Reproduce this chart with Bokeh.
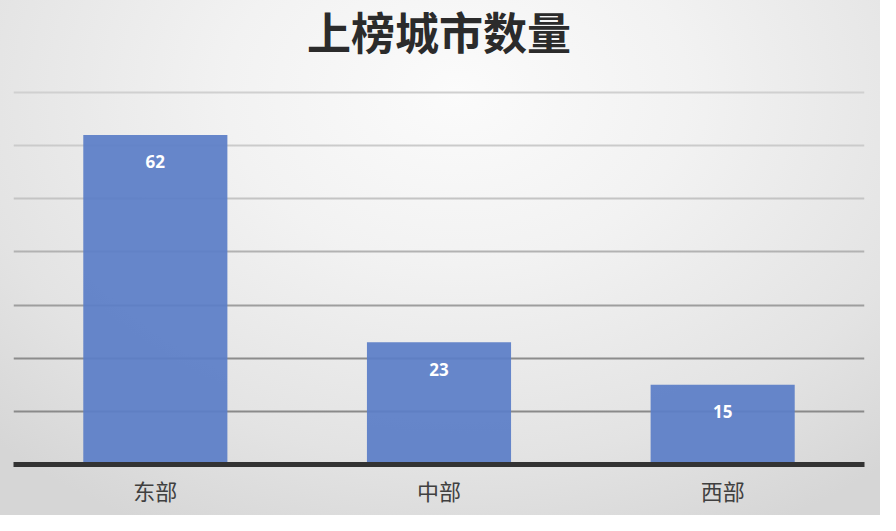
from bokeh.plotting import figure
from bokeh.models import ColumnDataSource, LabelSet, Label, Range1d
from bokeh.core.properties import value
from bokeh.embed import file_html
from bokeh.resources import INLINE

regions = ["东部", "中部", "西部"]
counts = [62, 23, 15]
grid_ticks = [10, 20, 30, 40, 50, 60, 70]
title_text = "上榜城市数量"

src = ColumnDataSource(dict(region=regions, count=counts, label=[str(c) for c in counts]))

# frame spans the whole upper part of the canvas so the title can sit inside it
p = figure(x_range=regions, width=880, height=515, output_backend="svg",
           toolbar_location=None, min_border_left=13, min_border_right=16,
           min_border_top=0, min_border_bottom=51)
p.y_range = Range1d(0, 87.3)
p.x_range.range_padding = 0
p.background_fill_alpha = 0
p.border_fill_alpha = 0
p.styles = {"background": "radial-gradient(ellipse 75% 95% at 52% 18%, #fbfbfb 0%, #f2f2f2 35%, #e3e3e3 75%, #d6d6d6 100%)"}
p.outline_line_color = None
p.xgrid.grid_line_color = None
p.ygrid.grid_line_color = None
p.yaxis.visible = False

grid_colors = ["#8a8a8a", "#8c8c8c", "#9e9e9e", "#b2b2b2", "#c4c4c4", "#cbcbcb", "#d0d0d0"]
p.hspan(y=grid_ticks, line_color=grid_colors, line_width=2)

p.vbar(x="region", top="count", width=0.508, source=src,
       fill_color="#5b7ec7", fill_alpha=0.93, line_color=None)

labels = LabelSet(x="region", y="count", text="label", source=src,
                  text_color="white", text_font=value("Open Sans"), text_font_style="bold",
                  text_font_size="17px", text_align="center", text_baseline="middle",
                  y_offset=-27)
p.add_layout(labels)

title = Label(x=425.5, x_units="screen", y=434, y_units="screen", text=title_text,
              text_font="Noto Sans CJK SC", text_font_size="44px", text_font_style="bold",
              text_color="#2b2b2b", text_align="center", text_baseline="middle")
p.add_layout(title)

ax = p.xaxis[0]
ax.axis_line_color = "#333333"
ax.axis_line_width = 5
ax.major_tick_line_color = None
ax.minor_tick_line_color = None
ax.major_label_text_font = "Noto Sans CJK SC"
ax.major_label_text_font_size = "22px"
ax.major_label_text_color = "#404040"
ax.major_label_standoff = 3

open("out.html", "w").write(file_html(p, INLINE))
